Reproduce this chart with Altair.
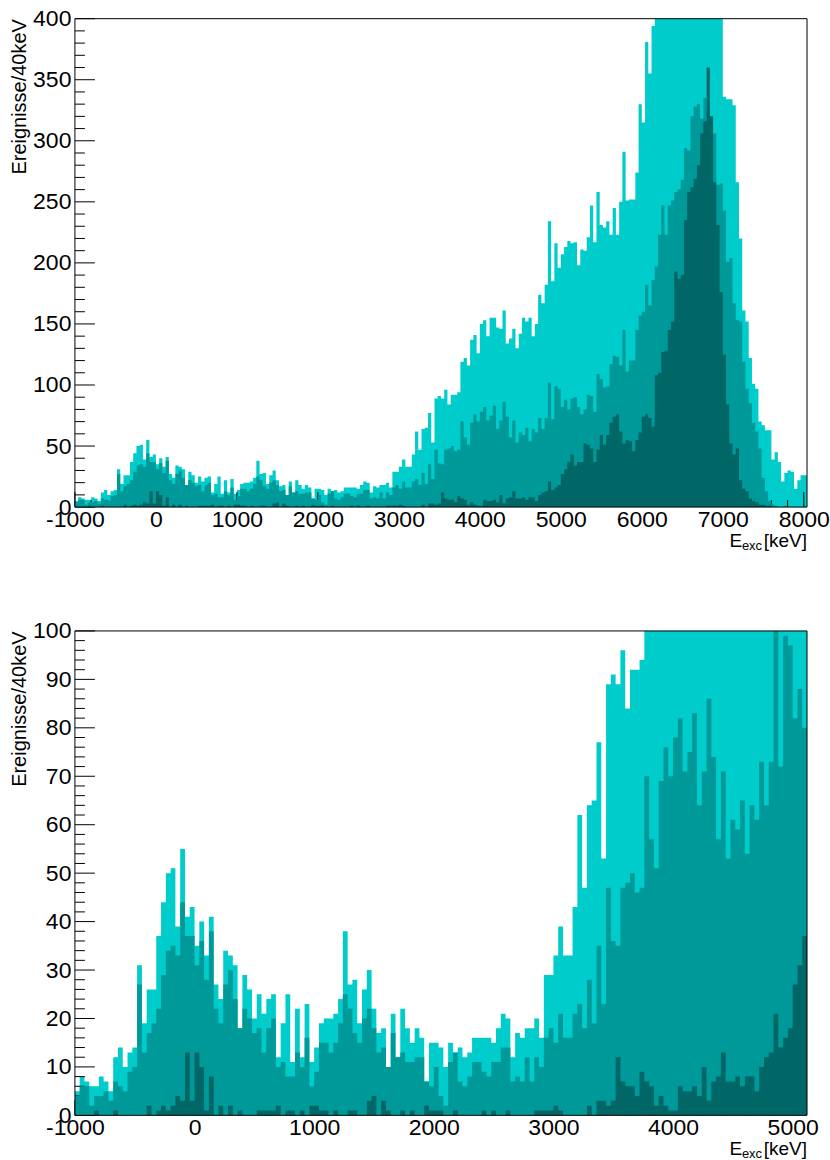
import altair as alt
import pandas as pd

# ---------------- data (counts per 40 keV bin, first bin starts at -1000 keV) ----------------
E_START = -1000
BIN_W = 40

LIGHT = [
    5, 8, 7, 6, 6, 8, 7, 5, 12, 14, 10, 13, 14,
    31, 19, 26, 26, 37, 44, 50, 51, 39, 55, 41, 43, 35, 40, 33, 41, 27, 24, 34, 33, 31, 18, 29, 26, 20,
    25, 21, 24, 25, 12, 19, 25, 11, 22, 12, 23, 11, 14, 19, 20, 20, 21, 24, 38, 27,
    28, 19, 26, 30, 22, 17, 18, 10, 21, 12, 22, 18, 15, 18, 16, 7, 15, 15,
    14, 10, 15, 13, 14, 12, 13, 16, 16, 16, 16, 15, 18, 21, 20, 12, 17, 16, 18, 18,
    20, 16, 29, 29, 33, 39, 33, 33, 43, 62, 47, 64, 65, 77, 53, 89, 91, 89, 96, 84,
    92, 92, 94,
    119, 122, 116, 137, 141, 126, 150, 153, 140, 155, 155, 147, 146, 161, 134, 138, 146, 130, 142, 155,
    152, 155, 140, 150, 174, 167, 182, 234, 185, 216, 196, 207, 213, 218, 216, 217, 198, 211, 210, 221,
    247, 217, 258, 231, 229, 234, 223, 245, 223,
    250, 291, 251, 252, 252, 274, 330, 315, 381, 355, 394,
    420, 445, 470, 490, 510, 520, 505, 530, 540, 525, 500, 485, 470, 460, 450, 440, 430, 425, 415, 410, 405,
    336, 334, 334, 329, 266, 220, 161, 152, 122, 101, 97, 70, 67, 63, 63, 39, 45, 37, 21, 28,
    30, 29, 15, 22, 26, 26,
]

MEDIUM = [
    4, 6, 6, 2, 4, 4, 5, 3, 7, 6, 5, 9, 10, 27, 13, 17, 19, 22, 29, 34,
    35, 33, 44, 37, 37, 31, 36, 28, 38, 22, 19, 27, 30, 24, 18, 22, 20, 17,
    18, 13, 18, 20, 10, 11, 8, 8, 13, 10, 16, 6, 9, 15, 15, 13, 15, 19, 25, 22,
    17, 15, 20, 22, 18, 13, 14, 10, 17, 12, 13, 11, 11, 12, 12, 7, 6, 10,
    4, 2, 11, 13, 7, 6, 8, 11, 11, 9, 8, 11, 11, 14, 14, 7, 8, 7, 12, 7,
    12, 10, 16, 18, 15, 21, 16, 16, 21, 23, 18, 28, 19, 35, 23, 47, 36, 35, 47, 48,
    50, 46, 47,
    70, 57, 51, 69, 76, 70, 78, 82, 71, 75, 83, 64, 71, 86, 74, 57, 71, 53, 61, 59,
    65, 54, 64, 61, 73, 64, 73, 102, 72, 99, 97, 82, 88, 80,
    89, 90, 82, 76, 80, 92, 91, 78, 109, 105, 98, 99, 117, 124, 123,
    116, 145, 111, 120, 120, 145, 157, 160, 182, 165, 186, 197, 223, 247, 223, 247, 251, 258, 260, 268,
    294, 292, 320, 328, 330, 318, 335, 327, 317, 306, 264, 265, 243, 201, 204, 167, 153, 152, 119, 97,
    85, 69, 62, 48, 24, 13, 5, 2,
    1, 0, 0, 1, 0, 0, 0, 0, 0, 0,
]

DARK = [
    0, 0, 0, 0, 1, 0, 0, 0, 1, 0, 0, 0, 0, 0, 0, 2, 0, 1, 2, 1,
    2, 4, 3, 13, 3, 13, 10, 1, 8, 0, 2, 0, 2, 0, 1, 0, 0, 0,
    1, 1, 1, 1, 2, 0, 1, 1, 0, 1, 0, 2, 2, 1, 1, 0, 1, 0, 0, 1,
    1, 0, 0, 3, 4, 0, 3, 1, 0, 0, 1, 0, 1, 0, 0, 2, 1, 1,
    1, 0, 0, 1, 0, 0, 0, 0, 0, 1, 0, 1, 0, 0, 1, 0, 0, 0, 0, 0,
    1, 1, 1, 1, 2, 1, 0, 0, 0, 0, 0, 2, 0, 3, 3, 2, 3,
    12, 7, 6, 6, 4, 9, 7, 6, 2, 4, 2, 1, 1, 6, 5, 5, 6, 4, 10, 3,
    7, 8, 13, 7, 7, 8, 6, 8, 8, 5, 10, 12, 13, 21, 14, 16, 18, 27, 31, 37,
    43, 34, 37, 37, 52, 51, 48, 37, 47, 59, 51, 59, 69, 74, 76,
    62, 52, 55, 54, 46, 55, 61, 74, 76, 73, 66, 108, 110, 127, 128, 145, 152, 193, 187, 190,
    235, 258, 262, 269, 280, 306, 316, 360, 320, 266, 231, 176, 125, 84, 52, 43, 48, 22, 15, 13,
    7, 5, 4, 2, 2, 1, 1, 0,
    0, 0, 0, 0, 0, 0, 0, 0, 0, 0,
]

assert len(LIGHT) == 226 and len(MEDIUM) == 226 and len(DARK) == 226

TOP_X_TICKS = [-1000, 0, 1000, 2000, 3000, 4000, 5000, 6000, 7000, 8000]
TOP_Y_TICKS = [0, 50, 100, 150, 200, 250, 300, 350, 400]
BOT_X_TICKS = [-1000, 0, 1000, 2000, 3000, 4000, 5000]
BOT_Y_TICKS = [0, 10, 20, 30, 40, 50, 60, 70, 80, 90, 100]

Y_TITLE = "Ereignisse/40keV"
COL_LIGHT = "#00cccc"
COL_MED = "#009999"
COL_DARK = "#006666"
FONT = "Liberation Sans"
LABEL_SIZE = 23


def step_frame(vals, nbins):
    xs = [E_START + BIN_W * i for i in range(nbins + 1)]
    ys = list(vals[:nbins]) + [vals[nbins - 1]]
    return pd.DataFrame({"x": xs, "y": ys})


def one():
    return pd.DataFrame({"k": [0]})


def panel(nbins, xmax, ymax, xticks, yticks, xminor_step, yminor_step, w, h):
    xs = alt.Scale(domain=[E_START, xmax], nice=False, zero=False)
    ys = alt.Scale(domain=[0, ymax], nice=False, zero=False)

    x_axis = alt.Axis(values=xticks, ticks=False, domain=False, grid=False,
                      labelFont=FONT, labelFontSize=LABEL_SIZE, labelColor="black",
                      labelPadding=1, labelFlush=False, labelOverlap=False,
                      labelExpr="toString(datum.value)", title=None, zindex=1)
    y_axis = alt.Axis(values=yticks, ticks=False, domain=False, grid=False,
                      labelFont=FONT, labelFontSize=LABEL_SIZE, labelColor="black",
                      labelPadding=4, labelFlush=False, labelOverlap=False,
                      labelExpr="toString(datum.value)",
                      title=Y_TITLE, titleFont=FONT, titleFontSize=20,
                      titleFontWeight="normal", titleColor="black",
                      titleAnchor="end", titlePadding=3, zindex=1)

    def area(vals, color):
        return alt.Chart(step_frame(vals, nbins)).mark_area(
            interpolate="step-after", color=color, clip=True, opacity=1
        ).encode(
            x=alt.X("x:Q", scale=xs, axis=x_axis, title=None),
            y=alt.Y("y:Q", scale=ys, axis=y_axis, title=Y_TITLE),
        )

    ymaj = pd.DataFrame({"y": yticks})
    ymin = pd.DataFrame({"y": [v for v in range(0, ymax + 1, yminor_step) if v not in yticks]})
    xmaj = pd.DataFrame({"x": xticks})
    xmin = pd.DataFrame({"x": [v for v in range(E_START, xmax + 1, xminor_step) if v not in xticks]})

    def yrule(df, length):
        return alt.Chart(df).mark_rule(color="black", strokeWidth=1).encode(
            y=alt.Y("y:Q", scale=ys, axis=y_axis, title=Y_TITLE),
            x=alt.value(0), x2=alt.value(length))

    def xrule(df, length):
        return alt.Chart(df).mark_rule(color="black", strokeWidth=1).encode(
            x=alt.X("x:Q", scale=xs, axis=x_axis, title=None),
            y=alt.value(h), y2=alt.value(h - length))

    frame = alt.Chart(one()).mark_rect(fillOpacity=0, stroke="black", strokeWidth=1).encode(
        x=alt.value(0), x2=alt.value(w), y=alt.value(0), y2=alt.value(h))

    def txt(t, size, xpos, ypos):
        return alt.Chart(one()).mark_text(
            text=t, font=FONT, fontSize=size, align="right", baseline="alphabetic", color="black"
        ).encode(x=alt.value(xpos), y=alt.value(ypos))

    xtitle = [
        txt("[keV]", 19, w, h + 40),
        txt("exc", 13, w - 45, h + 43),
        txt("E", 19, w - 65, h + 40),
    ]

    return alt.layer(
        area(LIGHT, COL_LIGHT),
        yrule(ymaj, 20), yrule(ymin, 10), xrule(xmaj, 15), xrule(xmin, 7),
        area(MEDIUM, COL_MED),
        area(DARK, COL_DARK),
        frame,
        *xtitle,
    ).properties(width=w, height=h)


top = panel(226, 8040, 400, TOP_X_TICKS, TOP_Y_TICKS, 200, 10, 733, 489)
bottom = panel(153, 5120, 100, BOT_X_TICKS, BOT_Y_TICKS, 200, 2, 733, 485)

chart = alt.vconcat(top, bottom, spacing=67).properties(
    padding={"left": 9, "top": 7, "right": 0, "bottom": 0},
    background="white",
).configure_view(stroke=None)

chart.save("out.html", embed_options={"renderer": "svg", "actions": False})
